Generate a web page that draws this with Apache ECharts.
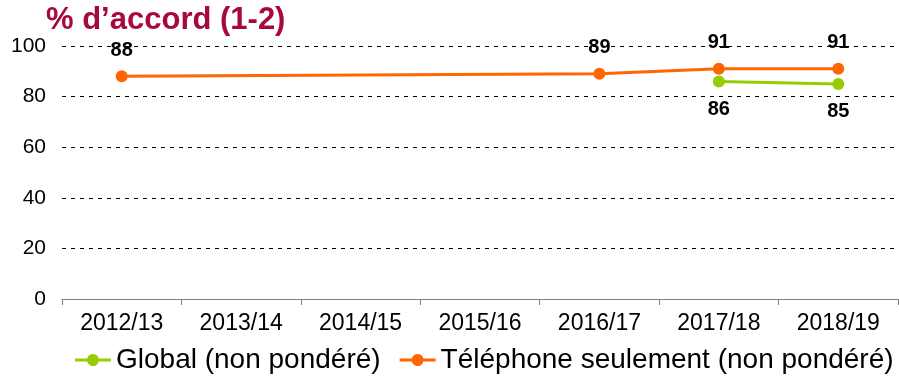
<!DOCTYPE html>
<html>
<head>
<meta charset="utf-8">
<script src="https://cdn.jsdelivr.net/npm/echarts@6/dist/echarts.min.js"></script>
<style>
  html, body { margin: 0; padding: 0; background: #fff; }
  #chart { width: 899px; height: 379px; }
</style>
</head>
<body>
<div id="chart"></div>
<script>
// School years on the x axis
const years = ['2012/13', '2013/14', '2014/15', '2015/16', '2016/17', '2017/18', '2018/19'];
// Share agreeing (1-2), in percent
const globalValues = [null, null, null, null, null, 86, 85];
const phoneValues = [88, null, null, null, 89, 91, 91];
const seriesNames = ['Global (non pondéré)', 'Téléphone seulement (non pondéré)'];
const yTicks = [0, 20, 40, 60, 80, 100];

const GREEN = '#99CC00';
const ORANGE = '#FF6600';
const FONT = '"Liberation Sans", Arial, sans-serif';

// legend marker: a short line with a dot in the middle
const LINE_DOT_ICON = 'path://M0,4.5 L12.19,4.5 A6,6 0 0,1 23.81,4.5 L36,4.5 L36,7.5 L23.81,7.5 A6,6 0 0,1 12.19,7.5 L0,7.5 Z';

const chart = echarts.init(document.getElementById('chart'));

const labelStyle = {
  show: true,
  fontFamily: FONT,
  fontWeight: 'bold',
  fontSize: 20,
  color: '#000'
};

chart.setOption({
  animation: false,
  title: {
    text: '% d’accord (1-2)',
    left: 41,
    top: 0,
    textStyle: { fontFamily: FONT, fontWeight: 'bold', fontSize: 31, color: '#A6093D' }
  },
  legend: {
    top: 341,
    left: 70,
    itemWidth: 36,
    itemHeight: 12,
    itemGap: 19,
    textStyle: { fontFamily: FONT, fontSize: 28, color: '#000' },
    data: seriesNames.map(n => ({ name: n, icon: LINE_DOT_ICON }))
  },
  grid: { left: 62, right: 1, top: 46, bottom: 80 },
  xAxis: {
    type: 'category',
    data: years,
    boundaryGap: true,
    axisLine: { lineStyle: { color: '#808080', width: 1 } },
    axisTick: { show: true, length: 6, lineStyle: { color: '#808080' } },
    axisLabel: { fontFamily: FONT, fontSize: 23, color: '#000', margin: 13 }
  },
  yAxis: {
    type: 'value',
    min: yTicks[0],
    max: yTicks[yTicks.length - 1],
    interval: 20,
    axisLine: { show: false },
    axisTick: { show: false },
    axisLabel: { fontFamily: FONT, fontSize: 21, color: '#000', margin: 16 },
    splitLine: { lineStyle: { color: '#000', type: [4, 5], width: 1 } }
  },
  series: [
    {
      name: seriesNames[0],
      type: 'line',
      data: globalValues,
      connectNulls: true,
      color: GREEN,
      symbol: 'circle',
      symbolSize: 12,
      lineStyle: { width: 3, color: GREEN },
      itemStyle: { color: GREEN },
      label: Object.assign({ position: 'bottom', distance: 12 }, labelStyle),
      z: 3
    },
    {
      name: seriesNames[1],
      type: 'line',
      data: phoneValues,
      connectNulls: true,
      color: ORANGE,
      symbol: 'circle',
      symbolSize: 12,
      lineStyle: { width: 3, color: ORANGE },
      itemStyle: { color: ORANGE },
      label: Object.assign({ position: 'top', distance: 10 }, labelStyle),
      z: 4
    }
  ]
});
</script>
</body>
</html>
